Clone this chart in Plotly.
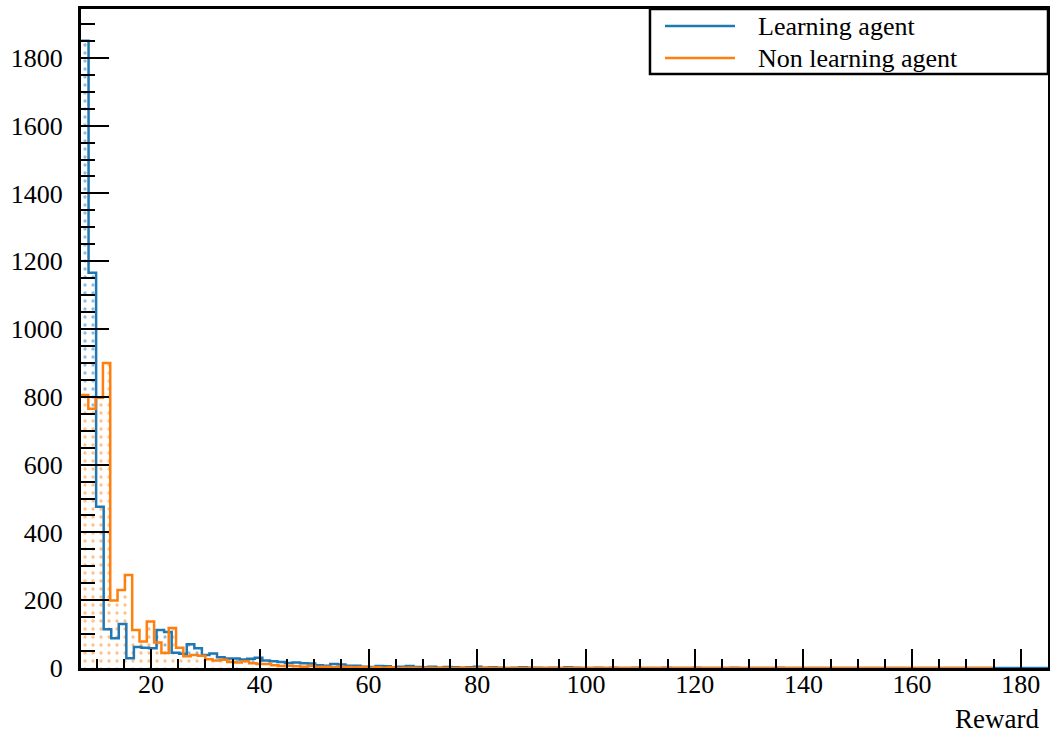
import plotly.graph_objects as go

# ---- data (histogram bin contents) ----
x_start = 7.1
blue_width = 1.39      # learning agent bin width
orange_width = 1.345   # non learning agent bin width

learning_counts = [
    1850, 1166, 476, 114, 88, 130, 29, 62, 60, 58,
    112, 106, 45, 42, 70, 58, 38, 43, 32, 28,
    28, 25, 27, 30, 22, 20, 18, 15, 16, 14,
    13, 8, 7, 12, 10, 7, 7, 4, 3, 6,
    5, 2, 4, 6, 3, 2, 4, 1, 3, 2,
    1, 2, 4, 1, 2, 1, 0, 1, 2, 1,
    1, 0, 1, 0, 2, 1, 0, 0, 1, 0,
    1, 0, 0, 1, 0, 0, 0, 1, 0, 0,
    0, 1, 0, 0, 0, 0, 1, 0, 0, 0,
    0, 0, 1, 0, 0, 0, 0, 0, 0, 0,
    0, 0, 0, 0, 0, 0, 0, 0, 0, 0,
    0, 0, 0, 0, 0, 0, 0, 0, 0, 0,
    0, 0, 0, 0, 0, 0, 0, 0,
]

non_learning_counts = [
    805, 765, 797, 900, 199, 230, 274, 112, 78, 137,
    75, 44, 118, 60, 35, 38, 36, 26, 22, 24,
    18, 16, 20, 14, 12, 12, 8, 6, 7, 5,
    4, 6, 3, 4, 2, 4, 3, 2, 3, 1,
    2, 1, 2, 0, 1, 1, 0, 1, 0, 1,
    0, 0, 1, 0, 0, 1, 0, 0, 0, 0,
    0, 0, 0, 0, 0, 0, 0, 0, 0, 0,
    0, 0, 0, 0, 0, 0, 0, 0, 0, 0,
    0, 0, 0, 0, 0, 0, 0, 0, 0, 0,
    0, 0, 0, 0, 0, 0, 0, 0, 0, 0,
    0, 0, 0, 0, 0, 0, 0, 0, 0, 0,
    0, 0, 0, 0, 0, 0, 0, 0, 0, 0,
    0, 0, 0, 0, 0,
]

series_names = ["Learning agent", "Non learning agent"]
colors = ["#1f77b4", "#ff7f0e"]
x_title = "Reward"


def step_xy(counts, width):
    xs = [x_start + width * i for i in range(len(counts) + 1)]
    ys = list(counts) + [counts[-1]]
    return xs, ys


hists = [
    (learning_counts, blue_width, series_names[0], colors[0], "rgba(0,0,0,0)"),
    (non_learning_counts, orange_width, series_names[1], colors[1], "white"),
]

fig = go.Figure()
# dotted fills first (orange fill hides the blue dots beneath it, as in ROOT)
for counts, width, name, col, bg in hists:
    xs, ys = step_xy(counts, width)
    fig.add_trace(go.Scatter(
        x=xs, y=ys, name=name, mode="lines", line_shape="hv",
        line=dict(color=col, width=0),
        fill="tozeroy", fillcolor=bg,
        fillpattern=dict(shape=".", fgcolor=col, bgcolor=bg,
                         size=8, solidity=0.13, fillmode="overlay"),
        showlegend=False, hoverinfo="skip",
    ))
# outlines on top
for counts, width, name, col, bg in hists:
    xs, ys = step_xy(counts, width)
    fig.add_trace(go.Scatter(
        x=xs, y=ys, name=name, mode="lines", line_shape="hv",
        line=dict(color=col, width=2.5), showlegend=False,
    ))

font_family = "Liberation Serif"

fig.update_xaxes(
    range=[7.1, 185], showline=True, linecolor="black", linewidth=3, mirror=True,
    ticks="inside", ticklen=19, tickwidth=2, tickcolor="black",
    dtick=20, tick0=0, showgrid=False, zeroline=False, automargin=False,
    tickfont=dict(family=font_family, size=26, color="black"),
    ticklabelstandoff=-9,
    minor=dict(ticks="inside", dtick=5, ticklen=9, tickwidth=2, tickcolor="black", showgrid=False),
)
fig.update_yaxes(
    range=[0, 1944], showline=True, linecolor="black", linewidth=3, mirror=True,
    ticks="inside", ticklen=28, tickwidth=2, tickcolor="black",
    dtick=200, tick0=0, showgrid=False, zeroline=False, automargin=False,
    tickfont=dict(family=font_family, size=26, color="black"),
    ticklabelstandoff=10,
    minor=dict(ticks="inside", dtick=50, ticklen=14, tickwidth=2, tickcolor="black", showgrid=False),
)

# legend box drawn like the ROOT legend
shapes = [
    dict(type="rect", xref="paper", yref="paper", x0=0.5884, x1=1.0, y0=0.9014, y1=1.0,
         line=dict(color="black", width=2.5), fillcolor="white", layer="above"),
    dict(type="line", xref="paper", yref="paper", x0=0.6039, x1=0.6763, y0=0.9742, y1=0.9742,
         line=dict(color=colors[0], width=2.5), layer="above"),
    dict(type="line", xref="paper", yref="paper", x0=0.6039, x1=0.6763, y0=0.9256, y1=0.9256,
         line=dict(color=colors[1], width=2.5), layer="above"),
]
annotations = [
    dict(text=series_names[0], xref="paper", yref="paper", x=0.6985, y=0.9742,
         xanchor="left", yanchor="middle", showarrow=False,
         font=dict(family=font_family, size=26, color="black")),
    dict(text=series_names[1], xref="paper", yref="paper", x=0.6985, y=0.9256,
         xanchor="left", yanchor="middle", showarrow=False,
         font=dict(family=font_family, size=26, color="black")),
    dict(text=x_title, xref="paper", yref="paper", x=0.9925, y=-0.0775,
         xanchor="right", yanchor="middle", showarrow=False,
         font=dict(family=font_family, size=27, color="black")),
]

fig.update_layout(
    width=1050, height=733,
    margin=dict(l=81, r=2, t=9, b=65, autoexpand=False),
    paper_bgcolor="white", plot_bgcolor="white",
    shapes=shapes, annotations=annotations,
    showlegend=False,
)

fig.write_html(
    "out.html",
    config={"displayModeBar": False},
    post_script="document.body.style.margin='0px';document.body.style.overflow='hidden';",
)
